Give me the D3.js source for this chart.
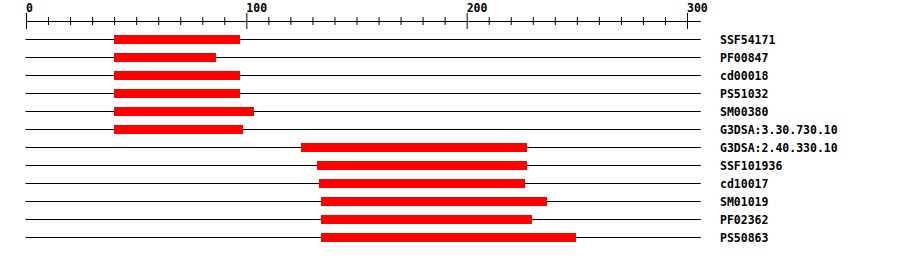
<!DOCTYPE html>
<html>
<head>
<meta charset="utf-8">
<script src="https://cdn.jsdelivr.net/npm/d3@7"></script>
<style>
  body { margin: 0; background: #fff; }
  text { font-family: "DejaVu Sans Mono", "Liberation Mono", monospace; font-weight: bold; font-size: 11.5px; }
</style>
</head>
<body>
<svg id="chart"></svg>
<script>
const width = 900;
const height = 256;

// protein length and domain hits
const seqLength = 306;
const names = ['SSF54171', 'PF00847', 'cd00018', 'PS51032', 'SM00380', 'G3DSA:3.30.730.10',
  'G3DSA:2.40.330.10', 'SSF101936', 'cd10017', 'SM01019', 'PF02362', 'PS50863'];
const starts = [39.8, 39.8, 39.8, 39.8, 39.8, 39.8, 124.6, 132, 132.8, 133.7, 133.7, 133.7];
const ends = [97, 86, 97, 97, 103.3, 98.3, 227, 227, 226.3, 236.3, 229.5, 249.5];
const majorTicks = [0, 100, 200, 300];
const minorTicks = d3.range(0, 301, 10);

const svg = d3.select('#chart')
  .attr('width', width)
  .attr('height', height);

const x = d3.scaleLinear().domain([0, 300]).range([26.5, 687.5]);
const y = d3.scaleBand().domain(names).range([30.5, 246.5]);

// ruler
const axisY = 21.5;
svg.append('line')
  .attr('x1', x(0)).attr('x2', x(seqLength))
  .attr('y1', axisY).attr('y2', axisY)
  .attr('stroke', '#000');

svg.selectAll('.minor')
  .data(minorTicks)
  .enter()
  .append('line')
  .attr('x1', function(d) { return x(d); })
  .attr('x2', function(d) { return x(d); })
  .attr('y1', function(d) { return majorTicks.includes(d) ? 13 : 17; })
  .attr('y2', function(d) { return majorTicks.includes(d) ? 29 : 25; })
  .attr('stroke', '#000');

svg.selectAll('.tickLabel')
  .data(majorTicks)
  .enter()
  .append('text')
  .attr('x', function(d) { return x(d) - 0.5; })
  .attr('y', 12)
  .text(function(d) { return d; });

// rows
const rows = svg.selectAll('.row')
  .data(names)
  .enter()
  .append('g')
  .attr('transform', function(d) { return 'translate(0,' + (y(d) + y.bandwidth() / 2) + ')'; });

rows.append('line')
  .attr('x1', x(0) - 1).attr('x2', x(seqLength))
  .attr('y1', 0).attr('y2', 0)
  .attr('stroke', '#000');

rows.append('rect')
  .attr('x', function(d, i) { return Math.round(x(starts[i])); })
  .attr('width', function(d, i) { return Math.round(x(ends[i])) - Math.round(x(starts[i])); })
  .attr('y', -4.5)
  .attr('height', 9)
  .attr('fill', '#ff0000');

rows.append('text')
  .attr('x', 720)
  .attr('y', 4)
  .text(function(d) { return d; });
</script>
</body>
</html>
